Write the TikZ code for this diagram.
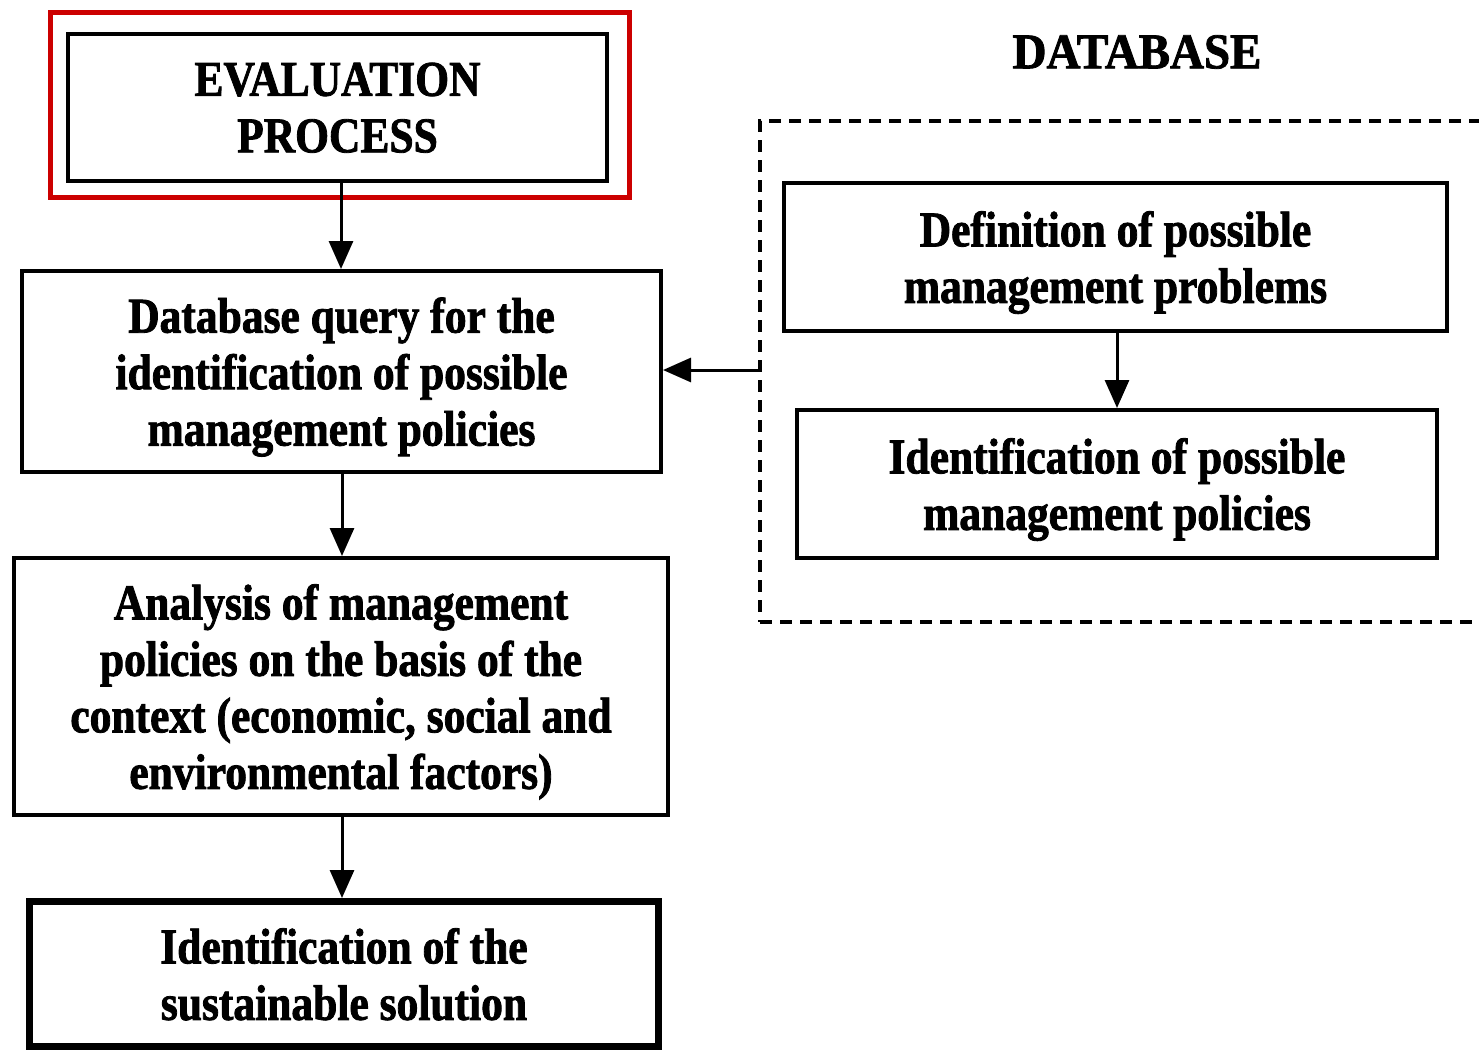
\documentclass[tikz,border=0pt]{standalone}
\usepackage{fontspec}
\setmainfont{Liberation Serif}[FakeStretch=0.87,BoldFeatures={FakeBold=1.6}]
\usetikzlibrary{arrows.meta}
\begin{document}
\begin{tikzpicture}[x=1pt,y=-1pt,
  box/.style={draw=black,line width=4pt,fill=white,align=center,inner sep=0pt,
    font=\fontsize{50}{56.5}\selectfont\bfseries,text depth=0pt},
  flow/.style={draw=black,line width=3pt,-{Triangle[width=24pt,length=28pt]}},
  frame/.style={draw=black,line width=4pt,dash pattern=on 12pt off 8pt}]
\clip (0,0) rectangle (1479,1052);
\fill[white] (0,0) rectangle (1479,1052);

% left column: evaluation process
\node[draw=red!80!black,line width=5pt,minimum width=579pt,minimum height=185pt] (hl) at (340,105) {};
\node[box,minimum width=539pt,minimum height=147pt] (eval) at (337.5,107.5) {EVALUATION\\PROCESS};
\node[box,minimum width=639pt,minimum height=201pt] (query) at (341.5,371.5)
  {Database query for the\\identification of possible\\management policies};
\node[box,minimum width=654pt,minimum height=257pt] (anal) at (341,686.5)
  {Analysis of management\\policies on the basis of the\\context (economic, social and\\environmental factors)};
\node[box,line width=7pt,minimum width=629pt,minimum height=145pt] (sol) at (344,974)
  {Identification of the\\sustainable solution};

% right column: database
\node[font=\fontsize{50}{56}\selectfont\bfseries,xscale=1.08] (dbt) at (1137,52) {DATABASE};
\node[frame,minimum width=800pt,minimum height=501pt,anchor=north west] (db) at (758,119) {};
\node[box,minimum width=663pt,minimum height=148pt] (prob) at (1115.5,257)
  {Definition of possible\\management problems};
\node[box,minimum width=640pt,minimum height=148pt] (pol) at (1117,484)
  {Identification of possible\\management policies};

% connectors
\draw[flow] (eval.south -| 341,0) -- (query.north -| 341,0);
\draw[flow] (query.south -| 342,0) -- (anal.north -| 342,0);
\draw[flow] (anal.south -| 342,0) -- (sol.north -| 342,0);
\draw[flow] (prob.south -| 1117,0) -- (pol.north -| 1117,0);
\draw[flow] (db.west |- 0,370) -- (query.east |- 0,370);
\end{tikzpicture}
\end{document}
